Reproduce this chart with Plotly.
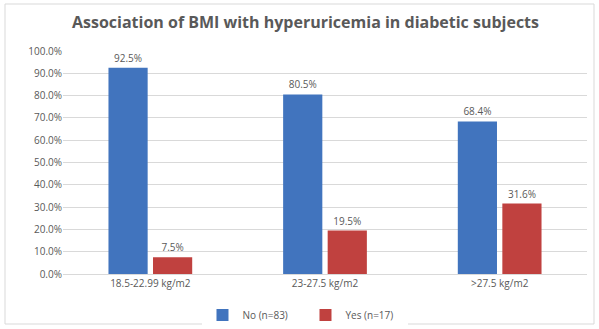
import plotly.graph_objects as go

categories = ["18.5-22.99 kg/m2", "23-27.5 kg/m2", ">27.5 kg/m2"]
no_values = [92.5, 80.5, 68.4]
yes_values = [7.5, 19.5, 31.6]
series_names = ["No (n=83)", "Yes (n=17)"]
tick_values = [0, 10, 20, 30, 40, 50, 60, 70, 80, 90, 100]
tick_labels = [f"{v:.1f}%" for v in tick_values]

label_font = dict(family="Open Sans, Liberation Sans, sans-serif", size=10, color="#595959")

fig = go.Figure()
for name, vals, color in [(series_names[0], no_values, "#4174BE"),
                          (series_names[1], yes_values, "#C0413F")]:
    fig.add_trace(go.Bar(
        x=categories, y=vals, name=name, marker_color=color,
        marker_line_width=0,
        text=[f"{v:.1f}%" for v in vals], textposition="outside",
        textfont=label_font, cliponaxis=False,
    ))

fig.update_layout(
    width=599, height=329,
    margin=dict(l=63, r=12, t=51, b=55, autoexpand=False),
    paper_bgcolor="white", plot_bgcolor="white",
    barmode="group", bargap=0.49, bargroupgap=0.12,
    title=dict(text="<b>Association of BMI with hyperuricemia in diabetic subjects</b>",
               x=0.51, xref="container", xanchor="center",
               y=1 - 22 / 329, yref="container", yanchor="middle",
               font=dict(family="Open Sans, Liberation Sans, sans-serif", size=16, color="#595959")),
    legend=dict(orientation="h", x=0.51, xref="container", xanchor="center",
                y=14 / 329, yref="container", yanchor="middle",
                font=label_font, itemwidth=30, entrywidth=58, entrywidthmode="pixels",
                traceorder="normal"),
    xaxis=dict(showgrid=False, showline=True, linecolor="#D9D9D9", linewidth=1,
               tickfont=label_font, ticks="", automargin=False),
    yaxis=dict(range=[0, 100], tickvals=tick_values, ticktext=tick_labels,
               showgrid=True, gridcolor="#D9D9D9", gridwidth=1, zeroline=False,
               tickfont=label_font, ticklen=0, ticks="", automargin=False),
    shapes=[dict(type="rect", xref="paper", yref="paper",
                 x0=-58 / 524, x1=1 + 7 / 524, y0=-50 / 223, y1=1 + 47 / 223,
                 line=dict(color="#D9D9D9", width=1))],
)

fig.write_html("out.html")
